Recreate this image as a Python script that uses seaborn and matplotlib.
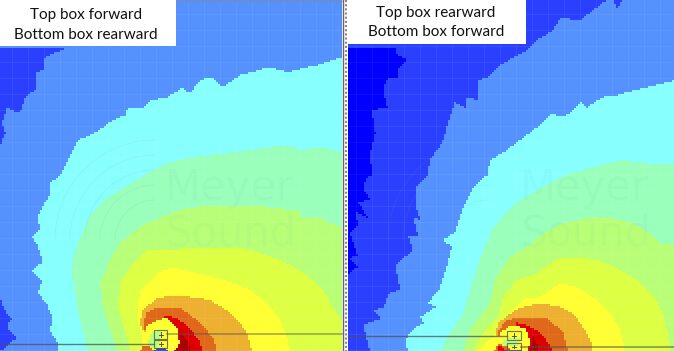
import numpy as np
import pandas as pd
import matplotlib
matplotlib.use('Agg')
import matplotlib.pyplot as plt
from matplotlib.colors import ListedColormap
from matplotlib.path import Path
from matplotlib.patches import Rectangle, Arc
import seaborn as sns

# band colours, index = SPL level in the map (0 is the white page)
band_colors = ['#ffffff', '#0000ff', '#2b40ff', '#5592ff', '#88ffff', '#99ffbb', '#b8ff77',
               '#ddff44', '#ffff33', '#eeb030', '#e0681a', '#dd0000', '#aa0000', '#1f4fd8']
WHITE, DEEP, DARK, BLUE, CYAN, MINT, LIME, YLIME, YELLOW, AMBER, ORANGE, RED, MAROON, CORE = range(14)

captions_left = ['Top box forward', 'Bottom box rearward']
captions_right = ['Top box rearward', 'Bottom box forward']

# --- left map: outlines, in picture pixels ---
L_dark_top = [(0, 47), (67, 48), (45, 57), (43, 70), (35, 73), (35, 90), (25, 97), (20, 113), (7, 108),
              (2, 123), (5, 133), (0, 147)]
L_dark_low = [(0, 295), (2, 305), (7, 315), (12, 318), (7, 325), (10, 332), (18, 338), (10, 342), (5, 348), (0, 351)]
L_cyan = [(343, 57), (317, 65), (287, 72), (270, 67), (240, 75), (222, 87), (213, 77), (200, 80), (190, 93),
          (182, 88), (167, 97), (152, 100), (143, 107), (128, 108), (125, 115), (110, 122), (97, 132), (78, 140),
          (72, 153), (60, 176), (50, 182), (50, 195), (43, 205), (37, 218), (40, 228), (32, 237), (37, 245),
          (43, 262), (32, 270), (42, 282), (38, 292), (47, 305), (53, 318), (50, 330), (57, 342), (58, 351), (343, 351)]
L_mint = [(343, 152), (323, 147), (300, 150), (287, 145), (250, 150), (227, 153), (193, 157), (167, 163), (143, 176),
          (128, 185), (107, 198), (90, 215), (80, 238), (72, 260), (73, 283), (77, 307), (83, 333), (88, 351), (343, 351)]
L_lime = [(343, 228), (330, 223), (320, 217), (303, 217), (297, 210), (273, 208), (250, 205), (217, 205), (187, 208),
          (167, 215), (143, 225), (120, 243), (110, 260), (100, 283), (103, 307), (110, 330), (117, 351), (343, 351)]
L_ylime = [(343, 323), (333, 307), (323, 290), (310, 278), (297, 268), (273, 257), (250, 250), (230, 247), (200, 247),
           (170, 250), (147, 250), (133, 263), (120, 283), (118, 307), (125, 330), (130, 351), (343, 351)]
L_yellow = [(290, 351), (288, 340), (280, 320), (267, 303), (250, 290), (230, 282), (205, 275), (173, 267), (157, 273),
            (140, 290), (137, 313), (143, 340), (146, 351)]
L_amber = [(252, 351), (247, 333), (240, 323), (230, 312), (210, 300), (178, 295), (157, 298), (143, 310), (140, 323),
           (145, 336), (170, 351)]
L_orange = [(217, 351), (213, 338), (200, 322), (180, 308), (157, 307), (147, 312), (143, 325), (147, 336), (170, 351)]
L_red = [(203, 351), (200, 342), (190, 328), (177, 318), (163, 315), (170, 351)]
L_ball = [(143, 338), (147, 326), (153, 322), (167, 317), (177, 328), (180, 345), (177, 351), (143, 351)]
L_maroon = [(180, 332), (188, 342), (190, 351), (175, 351), (180, 342)]
L_ball_core = [(148, 347), (150, 335), (157, 330), (162, 332), (158, 348)]
L_foot = [(140, 351), (143, 346), (150, 346), (153, 351)]
L_blue = [(155, 351), (157, 348), (165, 348), (167, 351)]

# --- right map ---
R_deep = [(348, 47), (395, 47), (397, 55), (408, 60), (397, 70), (397, 77), (388, 78), (383, 88), (387, 107),
          (372, 110), (375, 133), (370, 153), (372, 176), (368, 175), (363, 188), (370, 200), (358, 202), (367, 217),
          (355, 212), (358, 225), (350, 232), (357, 255), (350, 258), (357, 267), (348, 275)]
R_blue = [(607, 0), (580, 20), (560, 18), (553, 30), (537, 40), (527, 50), (500, 65), (487, 78), (478, 80), (477, 100),
          (467, 97), (465, 108), (455, 102), (448, 123), (442, 143), (430, 160), (427, 175), (415, 187), (415, 205),
          (420, 220), (413, 217), (418, 237), (408, 235), (413, 250), (395, 265), (400, 290), (390, 292), (383, 308),
          (373, 310), (382, 318), (363, 325), (370, 351), (675, 351), (675, 0), (623, 0), (617, 8), (613, 0)]
R_cyan = [(675, 80), (643, 88), (617, 95), (603, 97), (587, 107), (580, 102), (570, 113), (560, 117), (553, 113),
          (537, 127), (520, 140), (507, 150), (490, 160), (487, 175), (473, 187), (463, 208), (455, 232), (443, 240),
          (452, 247), (447, 265), (440, 288), (428, 303), (435, 307), (420, 317), (423, 323), (412, 330), (405, 340),
          (408, 351), (675, 351)]
R_mint = [(675, 163), (647, 163), (623, 160), (593, 167), (566, 175), (540, 188), (513, 205), (493, 228), (480, 258),
          (470, 290), (463, 313), (447, 337), (440, 351), (675, 351)]
R_lime = [(675, 245), (660, 243), (650, 233), (633, 223), (610, 218), (590, 217), (577, 220), (560, 225), (545, 232),
          (530, 245), (510, 257), (495, 280), (490, 303), (470, 330), (463, 351), (675, 351)]
R_ylime = [(670, 351), (668, 333), (663, 313), (653, 295), (637, 280), (617, 268), (597, 260), (577, 257), (560, 257),
           (537, 273), (517, 280), (503, 297), (498, 317), (483, 333), (473, 351)]
R_yellow = [(625, 351), (620, 330), (610, 313), (593, 297), (577, 287), (560, 283), (540, 297), (527, 297), (513, 310),
            (500, 325), (493, 337), (477, 351)]
R_amber = [(592, 351), (592, 343), (583, 327), (573, 313), (560, 307), (540, 303), (520, 308), (513, 312), (498, 323),
           (495, 335), (520, 351)]
R_orange = [(568, 351), (563, 332), (547, 318), (523, 317), (507, 320), (497, 332), (497, 340), (520, 351)]
R_red = [(552, 351), (550, 345), (540, 332), (527, 325), (515, 322), (520, 351)]
R_ball = [(497, 345), (500, 333), (512, 325), (525, 328), (530, 340), (528, 351), (500, 351)]
R_maroon = [(532, 335), (538, 345), (538, 351), (530, 351), (532, 342)]
R_ball_core = [(502, 342), (510, 338), (520, 338), (518, 346), (504, 347)]
R_foot_a = [(494, 351), (499, 344), (508, 347), (510, 351)]
R_foot_b = [(498, 351), (499, 346), (504, 348), (506, 351)]
R_core = [(507, 351), (508, 349), (520, 349), (521, 351)]

left_bands = [(L_dark_top, DARK), (L_dark_low, DARK), (L_cyan, CYAN), (L_mint, MINT), (L_lime, LIME), (L_ylime, YLIME),
              (L_yellow, YELLOW), (L_amber, AMBER), (L_orange, ORANGE), (L_red, RED), (L_ball, YELLOW),
              (L_maroon, MAROON), (L_ball_core, LIME), (L_foot, ORANGE), (L_blue, CORE)]
right_bands = [(R_deep, DEEP), (R_blue, BLUE), (R_cyan, CYAN), (R_mint, MINT), (R_lime, LIME), (R_ylime, YLIME),
               (R_yellow, YELLOW), (R_amber, AMBER), (R_orange, ORANGE), (R_red, RED), (R_ball, YELLOW),
               (R_maroon, MAROON), (R_ball_core, LIME), (R_foot_a, ORANGE), (R_foot_b, RED), (R_core, CORE)]

W, H, CELL = 674, 351, 2

# --- level matrix for the heatmap ---
nx, ny = W // CELL, H // CELL + 1
gx, gy = np.meshgrid((np.arange(nx) + 0.5) * CELL, (np.arange(ny) + 0.5) * CELL)
pts = np.column_stack([gx.ravel(), gy.ravel()])
levels = np.full(gx.shape, WHITE)

def paint(x0, x1, base, bands):
    panel = (gx >= x0) & (gx < x1)
    levels[panel] = base
    for outline, lev in bands:
        inside = Path(outline + [outline[0]]).contains_points(pts).reshape(gx.shape)
        levels[inside & panel] = lev

paint(0, 342, BLUE, left_bands)
paint(348, W, DARK, right_bands)
levels[(gx < 177) & (gy < 47)] = WHITE
levels[(gx >= 348) & (gx < 526) & (gy < 45)] = WHITE

fig = plt.figure(figsize=(W / 100, H / 100), dpi=100)
ax = fig.add_axes([0, 0, 1, 1])
sns.heatmap(pd.DataFrame(levels), cmap=ListedColormap(band_colors), vmin=-0.5, vmax=len(band_colors) - 0.5,
            cbar=False, xticklabels=False, yticklabels=False, ax=ax)
ax.set_xlim(0, W / CELL)
ax.set_ylim(H / CELL, 0)

# overlay in picture pixels
top = fig.add_axes([0, 0, 1, 1])
top.set_xlim(0, W)
top.set_ylim(H, 0)
top.axis('off')
top.patch.set_alpha(0)

# faint map grid
for x in range(12, 342, 16):
    top.plot([x, x], [47 if x < 177 else 2, H], color='white', alpha=0.06, lw=0.8)
for x in range(356, W, 16):
    top.plot([x, x], [45 if x < 526 else 0, H], color='white', alpha=0.06, lw=0.8)
for y in range(14, H, 16):
    top.plot([177 if y < 47 else 0, 342], [y, y], color='white', alpha=0.06, lw=0.8)
    top.plot([526 if y < 45 else 348, W], [y, y], color='white', alpha=0.06, lw=0.8)

# watermark logo: arcs and words
for cx, cy, word_x, x_end in [(155, 240, 165, 342), (488, 240, 520, W)]:
    clip = Rectangle((cx - 110, 0), x_end - cx + 110, H, transform=top.transData)
    for r in (40, 55, 70, 85, 100):
        a = Arc((cx, cy), 2 * r, 2 * r, theta1=180, theta2=270, color='#50b0a0', alpha=0.12, lw=0.6)
        top.add_patch(a)
        a.set_clip_path(clip)
    for word, yy in [('Meyer', 200), ('Sound', 245)]:
        t = top.text(word_x, yy, word, fontsize=30, color='#50b0a0', alpha=0.05, family='DejaVu Sans', va='baseline')
        t.set_clip_path(Rectangle((0, 0), x_end, H, transform=top.transData))

# speaker boxes and trim lines
line_col = '#505050'
top.plot([0, 154], [344, 344], color=line_col, alpha=0.75, lw=1)
top.plot([167, 342], [334, 334], color=line_col, alpha=0.5, lw=1.2)
top.plot([348, 507], [336, 336], color=line_col, alpha=0.75, lw=1)
top.plot([521, W], [347, 347], color=line_col, alpha=0.6, lw=1.2)
for bx, by, bw, bh in [(154, 330, 13, 9), (154, 340, 13, 8), (507, 331, 14, 9), (507, 343, 14, 7)]:
    top.add_patch(Rectangle((bx, by), bw, bh, fill=False, ec=line_col, lw=0.8, alpha=0.8))
    top.plot([bx + bw / 2] * 2, [by + 2, by + bh - 2], color=line_col, lw=0.7)
    top.plot([bx + bw / 2 - 2, bx + bw / 2 + 2], [by + bh / 2] * 2, color=line_col, lw=0.7)

# panel edges
top.plot([342.5, 342.5], [0, H], color='#666666', lw=1)
top.plot([346, 346], [0, H], color='#888888', lw=1.5, ls=(0, (1, 1)))
top.plot([177, 342], [1, 1], color='#888888', lw=1, ls=(0, (1, 1)))

for i, s in enumerate(captions_left):
    top.text(86, 15 + 20 * i, s, ha='center', va='center', fontsize=11, family='Lato', color='#111111')
for i, s in enumerate(captions_right):
    top.text(436, 12.5 + 20 * i, s, ha='center', va='center', fontsize=11, family='Lato', color='#111111')

plt.savefig('out.png', dpi=100)
